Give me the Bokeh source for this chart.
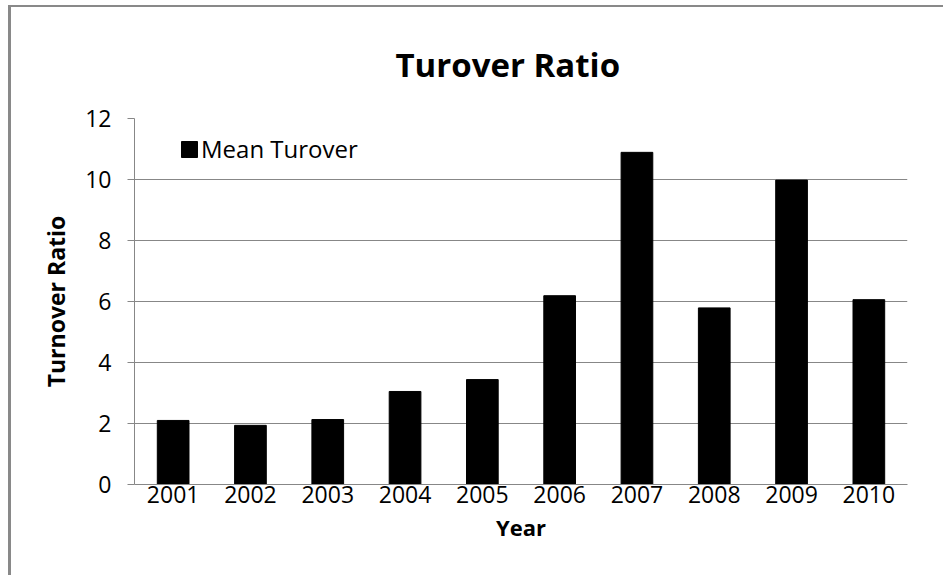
from bokeh.plotting import figure
from bokeh.models import ColumnDataSource, Title, Legend, LegendItem, FixedTicker
from bokeh.embed import file_html
from bokeh.resources import INLINE

years = ["2001", "2002", "2003", "2004", "2005", "2006", "2007", "2008", "2009", "2010"]
mean_turnover = [2.10, 1.94, 2.13, 3.05, 3.44, 6.19, 10.89, 5.79, 9.98, 6.06]
y_ticks = [0, 2, 4, 6, 8, 10, 12]

source = ColumnDataSource(data=dict(year=years, value=mean_turnover))

GRAY = "#878787"
FONT = "Open Sans"

p = figure(
    x_range=years, y_range=(0, 12),
    width=935, height=570,
    output_backend="svg", toolbar_location=None,
    min_border_left=123, min_border_right=39,
    min_border_top=110, min_border_bottom=93,
    styles={"margin-left": "8px", "margin-top": "5px",
            "border-left": "3px solid #898989", "border-top": "2px solid #898989"},
)
p.x_range.range_padding = 0
p.outline_line_color = None
p.background_fill_color = "white"
p.border_fill_color = "white"

r = p.vbar(x="year", top="value", width=0.41, source=source,
           fill_color="black", line_color="black")

title = Title(text="Turover Ratio", align="left", text_font=FONT,
              text_font_size="33px", text_font_style="bold", text_color="black",
              standoff=64, offset=261)
p.add_layout(title, "above")

# axes
p.yaxis.ticker = FixedTicker(ticks=y_ticks)
p.yaxis.axis_line_color = GRAY
p.yaxis.major_tick_line_color = GRAY
p.yaxis.major_tick_out = 7
p.yaxis.major_tick_in = 0
p.yaxis.minor_tick_line_color = None
p.yaxis.major_label_text_font = FONT
p.yaxis.major_label_text_font_size = "23px"
p.yaxis.major_label_text_color = "black"
p.yaxis.major_label_standoff = 16
p.yaxis.axis_label = "Turnover Ratio"
p.yaxis.axis_label_text_font = FONT
p.yaxis.axis_label_text_font_size = "23px"
p.yaxis.axis_label_text_font_style = "bold"
p.yaxis.axis_label_text_color = "black"
p.yaxis.axis_label_standoff = 10

p.xaxis.axis_line_color = GRAY
p.xaxis.major_tick_line_color = None
p.xaxis.major_tick_out = 0
p.xaxis.minor_tick_line_color = None
p.xaxis.major_label_text_font = FONT
p.xaxis.major_label_text_font_size = "23px"
p.xaxis.major_label_text_color = "black"
p.xaxis.major_label_standoff = 1
p.xaxis.axis_label = "Year"
p.xaxis.axis_label_text_font = FONT
p.xaxis.axis_label_text_font_size = "22px"
p.xaxis.axis_label_text_font_style = "bold"
p.xaxis.axis_label_text_color = "black"
p.xaxis.axis_label_standoff = 6

p.xgrid.grid_line_color = None
p.ygrid.ticker = FixedTicker(ticks=y_ticks)
p.ygrid.grid_line_color = GRAY
p.ygrid.grid_line_width = 1

legend = Legend(items=[LegendItem(label="Mean Turover", renderers=[r])],
                location=(45, 319), orientation="vertical",
                border_line_color=None, background_fill_alpha=0,
                glyph_width=20, glyph_height=20, label_standoff=2,
                label_text_font=FONT, label_text_font_size="24px",
                label_text_color="black",
                padding=0, margin=0, spacing=0)
p.add_layout(legend)

open("out.html", "w").write(file_html(p, INLINE))
